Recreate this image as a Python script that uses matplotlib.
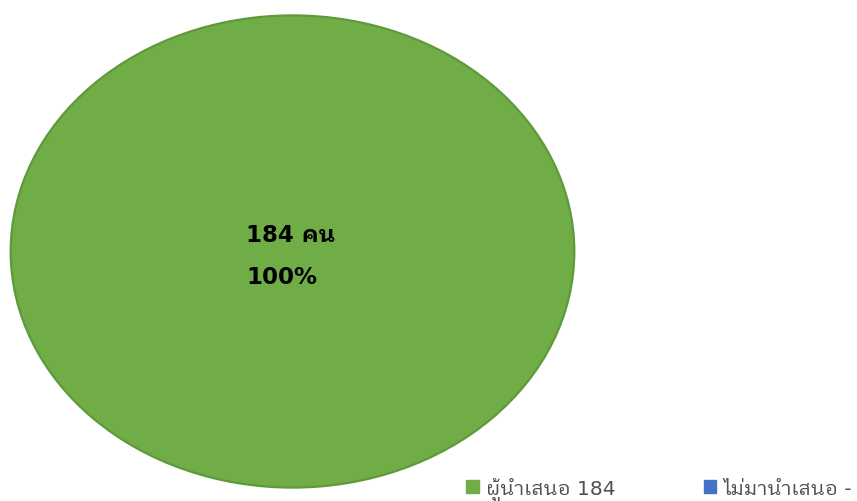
import matplotlib
matplotlib.use("Agg")
import matplotlib.pyplot as plt
from matplotlib.patches import Patch, Ellipse

# data
labels = ["ผู้นำเสนอ", "ไม่มานำเสนอ"]
values = [184, 0]
colors = ["#70AD47", "#4472C4"]
unit = "คน"

plt.rcParams['font.family'] = ['DejaVu Sans', 'IBM Plex Sans Thai Looped']

fig = plt.figure(figsize=(8.57, 5.02), dpi=100)
ax = fig.add_axes([9 / 857, 12 / 502, 567 / 857, 475 / 502])

total = sum(values)
ax.pie(values, colors=colors, startangle=90, counterclock=False,
       wedgeprops=dict(edgecolor='none', linewidth=0))
# outline round the whole pie (no radial seam)
ax.add_patch(Ellipse((0, 0), 2, 2, fill=False, edgecolor="#5E9A3A", linewidth=1.6))
ax.set_aspect('auto')
ax.set_xlim(-1.006, 1.006)
ax.set_ylim(-1.006, 1.006)
ax.axis('off')

# label of main slice
ax.text(-0.165, 0.07, f"{values[0]} {unit}", fontsize=16.5, fontweight='bold',
        ha='left', va='center', color='black')
ax.text(-0.165, -0.105, f"{values[0] / total * 100:.0f}%", fontsize=16.5,
        fontweight='bold', ha='left', va='center', color='black')

# legend
handles = []
for lab, v, c in zip(labels, values, colors):
    txt = f"{lab} {v if v else '-'}"
    handles.append(Patch(facecolor=c, edgecolor=c, label=txt))
fig.legend(handles=handles, loc='center right', ncol=2, frameon=False,
           bbox_to_anchor=(860 / 857, 12 / 502), fontsize=14.5,
           handlelength=0.62, handleheight=0.62, handletextpad=0.35,
           columnspacing=4.4, labelcolor='#505050', borderaxespad=0)

fig.savefig("out.png")
